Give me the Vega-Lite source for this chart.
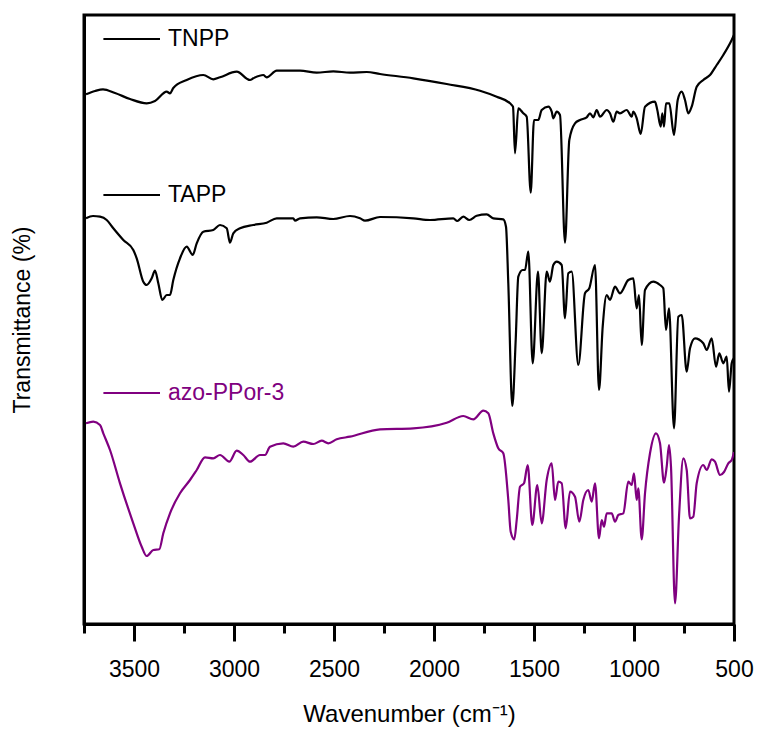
{
  "$schema": "https://vega.github.io/schema/vega-lite/v6.json",
  "width": 650,
  "height": 609,
  "autosize": {"type": "none"},
  "padding": {"left": 84, "top": 15, "right": 26, "bottom": 107},
  "background": "white",
  "config": {
    "view": {"stroke": "black", "strokeWidth": 3},
    "font": "Liberation Sans"
  },
  "datasets": {
    "spectra": [
      {"s":"TNPP","w":3740,"t":528.7},{"s":"TNPP","w":3695,"t":532},{"s":"TNPP","w":3655,"t":533.7},{"s":"TNPP","w":3595,"t":530},{"s":"TNPP","w":3520,"t":524},{"s":"TNPP","w":3436.5,"t":519.7},{"s":"TNPP","w":3395,"t":522},{"s":"TNPP","w":3336.5,"t":531.3},{"s":"TNPP","w":3320,"t":529.7},{"s":"TNPP","w":3303.5,"t":535},{"s":"TNPP","w":3236.5,"t":543},{"s":"TNPP","w":3153.5,"t":548},{"s":"TNPP","w":3103.5,"t":543.7},{"s":"TNPP","w":3070,"t":545.7},{"s":"TNPP","w":2986.5,"t":551.3},{"s":"TNPP","w":2920,"t":543},{"s":"TNPP","w":2903.5,"t":544.7},{"s":"TNPP","w":2853.5,"t":548},{"s":"TNPP","w":2836.5,"t":545.7},{"s":"TNPP","w":2786.5,"t":552.3},{"s":"TNPP","w":2670,"t":552.3},{"s":"TNPP","w":2586.5,"t":550.3},{"s":"TNPP","w":2503.5,"t":551.7},{"s":"TNPP","w":2420,"t":550.3},{"s":"TNPP","w":2336.5,"t":551},{"s":"TNPP","w":2270,"t":549},{"s":"TNPP","w":2103.5,"t":544.7},{"s":"TNPP","w":1936.5,"t":539},{"s":"TNPP","w":1770,"t":532.3},{"s":"TNPP","w":1686.5,"t":526.3},{"s":"TNPP","w":1620,"t":519.7},{"s":"TNPP","w":1605,"t":516.3},{"s":"TNPP","w":1595,"t":469.7},{"s":"TNPP","w":1578.5,"t":514.7},{"s":"TNPP","w":1553.5,"t":509.7},{"s":"TNPP","w":1536.5,"t":506.3},{"s":"TNPP","w":1516.5,"t":430.3},{"s":"TNPP","w":1500,"t":503},{"s":"TNPP","w":1478.5,"t":503},{"s":"TNPP","w":1461.5,"t":513},{"s":"TNPP","w":1428.5,"t":516.3},{"s":"TNPP","w":1411.5,"t":511.3},{"s":"TNPP","w":1403.5,"t":504.7},{"s":"TNPP","w":1386.5,"t":511.3},{"s":"TNPP","w":1370,"t":508},{"s":"TNPP","w":1345,"t":380.3},{"s":"TNPP","w":1323.5,"t":483},{"s":"TNPP","w":1295,"t":499.7},{"s":"TNPP","w":1270,"t":503},{"s":"TNPP","w":1236.5,"t":505.7},{"s":"TNPP","w":1220,"t":509.7},{"s":"TNPP","w":1203.5,"t":505.7},{"s":"TNPP","w":1186.5,"t":513},{"s":"TNPP","w":1170,"t":506.3},{"s":"TNPP","w":1136.5,"t":513},{"s":"TNPP","w":1120,"t":509.7},{"s":"TNPP","w":1103.5,"t":501.3},{"s":"TNPP","w":1086.5,"t":511.3},{"s":"TNPP","w":1070,"t":509.7},{"s":"TNPP","w":1036.5,"t":513},{"s":"TNPP","w":1011.5,"t":506.3},{"s":"TNPP","w":1003.5,"t":511.3},{"s":"TNPP","w":986.5,"t":504.7},{"s":"TNPP","w":966.5,"t":489},{"s":"TNPP","w":945,"t":516.3},{"s":"TNPP","w":895,"t":521.3},{"s":"TNPP","w":883.5,"t":513},{"s":"TNPP","w":866.5,"t":496.3},{"s":"TNPP","w":858.5,"t":509.7},{"s":"TNPP","w":850,"t":496.3},{"s":"TNPP","w":840,"t":519.7},{"s":"TNPP","w":823.5,"t":519.7},{"s":"TNPP","w":800,"t":488},{"s":"TNPP","w":781.5,"t":523},{"s":"TNPP","w":761.5,"t":531.3},{"s":"TNPP","w":745,"t":523},{"s":"TNPP","w":728.5,"t":509.7},{"s":"TNPP","w":711.5,"t":516.3},{"s":"TNPP","w":686.5,"t":536.3},{"s":"TNPP","w":653.5,"t":543},{"s":"TNPP","w":620,"t":548},{"s":"TNPP","w":586.5,"t":558},{"s":"TNPP","w":553.5,"t":568},{"s":"TNPP","w":511.5,"t":583},{"s":"TNPP","w":500,"t":588},
      {"s":"TAPP","w":3740,"t":404.7},{"s":"TAPP","w":3705,"t":407},{"s":"TAPP","w":3670,"t":406.3},{"s":"TAPP","w":3636.5,"t":403},{"s":"TAPP","w":3603.5,"t":394.7},{"s":"TAPP","w":3553.5,"t":383},{"s":"TAPP","w":3503.5,"t":373},{"s":"TAPP","w":3486.5,"t":364.7},{"s":"TAPP","w":3453.5,"t":341.3},{"s":"TAPP","w":3436.5,"t":338},{"s":"TAPP","w":3411.5,"t":344.7},{"s":"TAPP","w":3395,"t":352.3},{"s":"TAPP","w":3378.5,"t":339.7},{"s":"TAPP","w":3358.5,"t":323},{"s":"TAPP","w":3336.5,"t":328},{"s":"TAPP","w":3320,"t":328},{"s":"TAPP","w":3303.5,"t":343},{"s":"TAPP","w":3270,"t":364.7},{"s":"TAPP","w":3236.5,"t":376.3},{"s":"TAPP","w":3206.5,"t":368},{"s":"TAPP","w":3186.5,"t":379.7},{"s":"TAPP","w":3153.5,"t":391.3},{"s":"TAPP","w":3103.5,"t":393},{"s":"TAPP","w":3070,"t":398},{"s":"TAPP","w":3036.5,"t":394.7},{"s":"TAPP","w":3020,"t":380.3},{"s":"TAPP","w":3003.5,"t":389.7},{"s":"TAPP","w":2970,"t":394.7},{"s":"TAPP","w":2903.5,"t":398},{"s":"TAPP","w":2836.5,"t":400.3},{"s":"TAPP","w":2786.5,"t":404.7},{"s":"TAPP","w":2703.5,"t":404.7},{"s":"TAPP","w":2695,"t":402.3},{"s":"TAPP","w":2670,"t":404.7},{"s":"TAPP","w":2586.5,"t":405.7},{"s":"TAPP","w":2503.5,"t":404},{"s":"TAPP","w":2420,"t":407},{"s":"TAPP","w":2370,"t":404.7},{"s":"TAPP","w":2345,"t":402.3},{"s":"TAPP","w":2270,"t":406},{"s":"TAPP","w":2103.5,"t":404.7},{"s":"TAPP","w":2020,"t":403},{"s":"TAPP","w":1903.5,"t":404.7},{"s":"TAPP","w":1883.5,"t":402},{"s":"TAPP","w":1853.5,"t":406.3},{"s":"TAPP","w":1823.5,"t":403},{"s":"TAPP","w":1786.5,"t":407.3},{"s":"TAPP","w":1736.5,"t":408.7},{"s":"TAPP","w":1703.5,"t":404.7},{"s":"TAPP","w":1653.5,"t":403.7},{"s":"TAPP","w":1640,"t":396.3},{"s":"TAPP","w":1628.5,"t":339.7},{"s":"TAPP","w":1608.5,"t":217},{"s":"TAPP","w":1591.5,"t":283},{"s":"TAPP","w":1578.5,"t":346.3},{"s":"TAPP","w":1556.5,"t":353},{"s":"TAPP","w":1545,"t":353},{"s":"TAPP","w":1528.5,"t":371.3},{"s":"TAPP","w":1506.5,"t":259.7},{"s":"TAPP","w":1480,"t":351.3},{"s":"TAPP","w":1461.5,"t":269.7},{"s":"TAPP","w":1436.5,"t":351.3},{"s":"TAPP","w":1420,"t":341.3},{"s":"TAPP","w":1403.5,"t":358},{"s":"TAPP","w":1386.5,"t":361.3},{"s":"TAPP","w":1361.5,"t":358},{"s":"TAPP","w":1345,"t":304.7},{"s":"TAPP","w":1328.5,"t":349.7},{"s":"TAPP","w":1311.5,"t":351.3},{"s":"TAPP","w":1278.5,"t":258},{"s":"TAPP","w":1245,"t":329.7},{"s":"TAPP","w":1223.5,"t":334.7},{"s":"TAPP","w":1195,"t":358},{"s":"TAPP","w":1175,"t":233},{"s":"TAPP","w":1156.5,"t":296.3},{"s":"TAPP","w":1136.5,"t":328},{"s":"TAPP","w":1120,"t":323},{"s":"TAPP","w":1095,"t":336.3},{"s":"TAPP","w":1070,"t":329.7},{"s":"TAPP","w":1028.5,"t":343},{"s":"TAPP","w":1003.5,"t":344.7},{"s":"TAPP","w":986.5,"t":314.7},{"s":"TAPP","w":975,"t":328},{"s":"TAPP","w":961.5,"t":278},{"s":"TAPP","w":945,"t":333},{"s":"TAPP","w":903.5,"t":341.3},{"s":"TAPP","w":870,"t":338},{"s":"TAPP","w":853.5,"t":334.7},{"s":"TAPP","w":840,"t":293},{"s":"TAPP","w":825,"t":314.7},{"s":"TAPP","w":800,"t":194.7},{"s":"TAPP","w":778.5,"t":306.3},{"s":"TAPP","w":761.5,"t":308},{"s":"TAPP","w":736.5,"t":251.3},{"s":"TAPP","w":720,"t":274.7},{"s":"TAPP","w":695,"t":284.7},{"s":"TAPP","w":653.5,"t":279.7},{"s":"TAPP","w":636.5,"t":273},{"s":"TAPP","w":611.5,"t":284.7},{"s":"TAPP","w":590,"t":256.3},{"s":"TAPP","w":573.5,"t":269.7},{"s":"TAPP","w":553.5,"t":259.7},{"s":"TAPP","w":536.5,"t":266.3},{"s":"TAPP","w":525,"t":231.3},{"s":"TAPP","w":511.5,"t":259.7},{"s":"TAPP","w":500,"t":265},
      {"s":"azo-PPor-3","w":3740,"t":199.7},{"s":"azo-PPor-3","w":3703.5,"t":201.3},{"s":"azo-PPor-3","w":3670,"t":198},{"s":"azo-PPor-3","w":3653.5,"t":189.7},{"s":"azo-PPor-3","w":3620,"t":173},{"s":"azo-PPor-3","w":3570,"t":139.7},{"s":"azo-PPor-3","w":3503.5,"t":99.7},{"s":"azo-PPor-3","w":3461.5,"t":76.3},{"s":"azo-PPor-3","w":3436.5,"t":67},{"s":"azo-PPor-3","w":3403.5,"t":73},{"s":"azo-PPor-3","w":3373.5,"t":73.7},{"s":"azo-PPor-3","w":3353.5,"t":89.7},{"s":"azo-PPor-3","w":3320,"t":109.7},{"s":"azo-PPor-3","w":3270,"t":129.7},{"s":"azo-PPor-3","w":3220,"t":143},{"s":"azo-PPor-3","w":3186.5,"t":153},{"s":"azo-PPor-3","w":3145,"t":165.7},{"s":"azo-PPor-3","w":3103.5,"t":164.7},{"s":"azo-PPor-3","w":3070,"t":168},{"s":"azo-PPor-3","w":3023.5,"t":161.3},{"s":"azo-PPor-3","w":2986.5,"t":172.3},{"s":"azo-PPor-3","w":2953.5,"t":168},{"s":"azo-PPor-3","w":2920,"t":161.3},{"s":"azo-PPor-3","w":2870,"t":168},{"s":"azo-PPor-3","w":2845,"t":168},{"s":"azo-PPor-3","w":2820,"t":176.3},{"s":"azo-PPor-3","w":2753.5,"t":179.7},{"s":"azo-PPor-3","w":2703.5,"t":176.3},{"s":"azo-PPor-3","w":2653.5,"t":181.3},{"s":"azo-PPor-3","w":2603.5,"t":179},{"s":"azo-PPor-3","w":2561.5,"t":182.3},{"s":"azo-PPor-3","w":2528.5,"t":179.7},{"s":"azo-PPor-3","w":2486.5,"t":183.7},{"s":"azo-PPor-3","w":2420,"t":186.3},{"s":"azo-PPor-3","w":2270,"t":193.7},{"s":"azo-PPor-3","w":2103.5,"t":194.7},{"s":"azo-PPor-3","w":1936.5,"t":200.3},{"s":"azo-PPor-3","w":1853.5,"t":207},{"s":"azo-PPor-3","w":1803.5,"t":203.7},{"s":"azo-PPor-3","w":1753.5,"t":212.3},{"s":"azo-PPor-3","w":1728.5,"t":209.7},{"s":"azo-PPor-3","w":1703.5,"t":189.7},{"s":"azo-PPor-3","w":1678.5,"t":174.7},{"s":"azo-PPor-3","w":1653.5,"t":169.7},{"s":"azo-PPor-3","w":1628.5,"t":123},{"s":"azo-PPor-3","w":1616.5,"t":91.3},{"s":"azo-PPor-3","w":1598.5,"t":83.7},{"s":"azo-PPor-3","w":1586.5,"t":103},{"s":"azo-PPor-3","w":1570,"t":136.3},{"s":"azo-PPor-3","w":1550,"t":139.7},{"s":"azo-PPor-3","w":1531.5,"t":158},{"s":"azo-PPor-3","w":1508.5,"t":98},{"s":"azo-PPor-3","w":1483.5,"t":138},{"s":"azo-PPor-3","w":1461.5,"t":99.7},{"s":"azo-PPor-3","w":1436.5,"t":143},{"s":"azo-PPor-3","w":1411.5,"t":159.7},{"s":"azo-PPor-3","w":1395,"t":123},{"s":"azo-PPor-3","w":1378.5,"t":141.3},{"s":"azo-PPor-3","w":1361.5,"t":139.7},{"s":"azo-PPor-3","w":1341.5,"t":94.7},{"s":"azo-PPor-3","w":1320,"t":131.3},{"s":"azo-PPor-3","w":1295,"t":126.3},{"s":"azo-PPor-3","w":1273.5,"t":101.3},{"s":"azo-PPor-3","w":1253.5,"t":123},{"s":"azo-PPor-3","w":1228.5,"t":133},{"s":"azo-PPor-3","w":1211.5,"t":121.3},{"s":"azo-PPor-3","w":1195,"t":139.7},{"s":"azo-PPor-3","w":1175,"t":84.7},{"s":"azo-PPor-3","w":1161.5,"t":103},{"s":"azo-PPor-3","w":1150,"t":96.3},{"s":"azo-PPor-3","w":1136.5,"t":109.7},{"s":"azo-PPor-3","w":1111.5,"t":109.7},{"s":"azo-PPor-3","w":1095,"t":101.3},{"s":"azo-PPor-3","w":1078.5,"t":108},{"s":"azo-PPor-3","w":1053.5,"t":109.7},{"s":"azo-PPor-3","w":1028.5,"t":141.3},{"s":"azo-PPor-3","w":1011.5,"t":138},{"s":"azo-PPor-3","w":1000,"t":149.7},{"s":"azo-PPor-3","w":986.5,"t":123},{"s":"azo-PPor-3","w":978.5,"t":134.7},{"s":"azo-PPor-3","w":961.5,"t":83.7},{"s":"azo-PPor-3","w":945,"t":129.7},{"s":"azo-PPor-3","w":920,"t":169.7},{"s":"azo-PPor-3","w":890,"t":189.7},{"s":"azo-PPor-3","w":870,"t":179.7},{"s":"azo-PPor-3","w":850,"t":140.3},{"s":"azo-PPor-3","w":836.5,"t":156.3},{"s":"azo-PPor-3","w":825,"t":178},{"s":"azo-PPor-3","w":815,"t":156.3},{"s":"azo-PPor-3","w":795,"t":19.7},{"s":"azo-PPor-3","w":775,"t":106.3},{"s":"azo-PPor-3","w":753.5,"t":164.7},{"s":"azo-PPor-3","w":736.5,"t":153},{"s":"azo-PPor-3","w":720,"t":104.7},{"s":"azo-PPor-3","w":703.5,"t":106.3},{"s":"azo-PPor-3","w":686.5,"t":139.7},{"s":"azo-PPor-3","w":653.5,"t":158},{"s":"azo-PPor-3","w":636.5,"t":153},{"s":"azo-PPor-3","w":611.5,"t":163.7},{"s":"azo-PPor-3","w":595,"t":161.3},{"s":"azo-PPor-3","w":570,"t":148},{"s":"azo-PPor-3","w":550,"t":151},{"s":"azo-PPor-3","w":528.5,"t":159.7},{"s":"azo-PPor-3","w":511.5,"t":163},{"s":"azo-PPor-3","w":500,"t":171}
    ],
    "labels": [
      {"s":"TNPP","w1":3653,"w2":3370,"wt":3330,"t":584},
      {"s":"TAPP","w1":3653,"w2":3370,"wt":3330,"t":428},
      {"s":"azo-PPor-3","w1":3653,"w2":3370,"wt":3330,"t":230}
    ]
  },
  "layer": [
    {
      "data": {"name": "spectra"},
      "mark": {"type": "line", "strokeWidth": 2.2, "interpolate": "monotone", "clip": true},
      "encoding": {
        "x": {
          "field": "w", "type": "quantitative",
          "scale": {"domain": [500, 3750], "reverse": true, "nice": false, "zero": false},
          "axis": {
            "title": "Wavenumber (cm⁻¹)",
            "values": [500, 750, 1000, 1250, 1500, 1750, 2000, 2250, 2500, 2750, 3000, 3250, 3500, 3750],
            "format": "d",
            "labelExpr": "datum.value % 500 === 0 ? datum.label : ''",
            "tickSize": {"condition": {"test": "datum.value % 500 === 0", "value": 17}, "value": 9},
            "tickWidth": 3, "tickColor": "black",
            "domainColor": "black", "domainWidth": 3,
            "grid": false,
            "labelFont": "Liberation Sans", "labelFontSize": 23, "labelColor": "black",
            "labelPadding": 17, "labelFlush": false, "labelOverlap": false,
            "titleFont": "Liberation Sans", "titleFontSize": 24, "titleFontWeight": "normal", "titleColor": "black",
            "titlePadding": 21
          }
        },
        "y": {
          "field": "t", "type": "quantitative",
          "scale": {"domain": [-1, 608], "nice": false, "zero": false},
          "axis": {
            "title": "Transmittance (%)",
            "labels": false, "ticks": false, "grid": false,
            "domainColor": "black", "domainWidth": 3,
            "titleFont": "Liberation Sans", "titleFontSize": 23, "titleFontWeight": "normal", "titleColor": "black",
            "titlePadding": 50
          }
        },
        "color": {
          "field": "s", "type": "nominal",
          "scale": {"domain": ["TNPP", "TAPP", "azo-PPor-3"], "range": ["#000000", "#000000", "#800080"]},
          "legend": null
        }
      }
    },
    {
      "data": {"name": "labels"},
      "mark": {"type": "rule", "strokeWidth": 2},
      "encoding": {
        "x": {"field": "w1", "type": "quantitative", "axis": {"title": "Wavenumber (cm⁻¹)"}},
        "x2": {"field": "w2"},
        "y": {"field": "t", "type": "quantitative", "axis": {"title": "Transmittance (%)"}},
        "color": {"field": "s", "type": "nominal", "legend": null}
      }
    },
    {
      "data": {"name": "labels"},
      "mark": {"type": "text", "align": "left", "baseline": "middle", "font": "Liberation Sans", "fontSize": 23},
      "encoding": {
        "x": {"field": "wt", "type": "quantitative", "axis": {"title": "Wavenumber (cm⁻¹)"}},
        "y": {"field": "t", "type": "quantitative", "axis": {"title": "Transmittance (%)"}},
        "text": {"field": "s"},
        "color": {"field": "s", "type": "nominal", "legend": null}
      }
    }
  ]
}
